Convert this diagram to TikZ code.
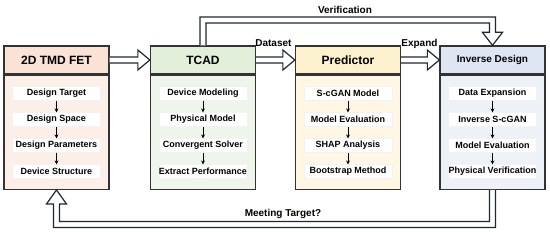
\documentclass[tikz,border=0pt]{standalone}
\usepackage{fontspec}
\setmainfont{Liberation Sans}
\usetikzlibrary{calc,arrows.meta}
\definecolor{bordc}{HTML}{333333}
\definecolor{arrc}{HTML}{1F2731}
\definecolor{c1h}{HTML}{FAE2D4}
\definecolor{c1b}{HTML}{FCEFE8}
\definecolor{c2h}{HTML}{E2EFD9}
\definecolor{c2b}{HTML}{EEF5EA}
\definecolor{c3h}{HTML}{FDF0CC}
\definecolor{c3b}{HTML}{FFF7E4}
\definecolor{c4h}{HTML}{DDE6F2}
\definecolor{c4b}{HTML}{EDF2F9}
\tikzset{
  hdr/.style={draw=bordc, line width=1.3pt, minimum width=105, minimum height=28, inner sep=0, font=\fontsize{12}{14}\selectfont\bfseries},
  bodyb/.style={draw=bordc, line width=1.3pt, minimum width=105, minimum height=114, inner sep=0, anchor=north},
  item/.style={fill=white, draw=black!5, line width=0.4pt, minimum width=88, minimum height=14, inner sep=0, font=\fontsize{9}{10}\selectfont\bfseries},
  sm/.style={-{Stealth[length=4pt,width=4pt]}, line width=1pt, black},
  hol/.style={draw=arrc, line width=1.2pt, fill=white, line join=miter},
  lbl/.style={inner sep=0, font=\fontsize{10}{12}\selectfont\bfseries}
}
\begin{document}
\begin{tikzpicture}[x=1pt,y=-1pt]
\useasboundingbox (0,0) rectangle (550,232);
% boxes
\node[hdr, fill=c1h] (h1) at (56.5,60) {2D TMD FET};
\node[bodyb, fill=c1b] (b1) at (h1.south) {};
\node[hdr, fill=c2h] (h2) at (203,60) {TCAD};
\node[bodyb, fill=c2b] (b2) at (h2.south) {};
\node[hdr, fill=c3h] (h3) at (348,60) {Predictor};
\node[bodyb, fill=c3b] (b3) at (h3.south) {};
\node[hdr, fill=c4h, font=\fontsize{10}{12}\selectfont\bfseries] (h4) at (492.5,60) {Inverse Design};
\node[bodyb, fill=c4b] (b4) at (h4.south) {};
% items box 1
\node[item] (i11) at ($(b1.north)+(0,19)$) {Design Target};
\node[item] (i12) at ($(b1.north)+(0,45)$) {Design Space};
\node[item] (i13) at ($(b1.north)+(0,71)$) {Design Parameters};
\node[item] (i14) at ($(b1.north)+(0,97)$) {Device Structure};
% items box 2
\node[item] (i21) at ($(b2.north)+(0,19)$) {Device Modeling};
\node[item] (i22) at ($(b2.north)+(0,45)$) {Physical Model};
\node[item] (i23) at ($(b2.north)+(0,71)$) {Convergent Solver};
\node[item] (i24) at ($(b2.north)+(0,97)$) {Extract Performance};
% items box 3
\node[item] (i31) at ($(b3.north)+(0,19)$) {S-cGAN Model};
\node[item] (i32) at ($(b3.north)+(0,45)$) {Model Evaluation};
\node[item] (i33) at ($(b3.north)+(0,71)$) {SHAP Analysis};
\node[item] (i34) at ($(b3.north)+(0,97)$) {Bootstrap Method};
% items box 4
\node[item] (i41) at ($(b4.north)+(0,19)$) {Data Expansion};
\node[item] (i42) at ($(b4.north)+(0,45)$) {Inverse S-cGAN};
\node[item] (i43) at ($(b4.north)+(0,71)$) {Model Evaluation};
\node[item] (i44) at ($(b4.north)+(0,97)$) {Physical Verification};
% small arrows
\foreach \k in {1,2,3,4}{
  \draw[sm] (i\k1.south) -- (i\k2.north);
  \draw[sm] (i\k2.south) -- (i\k3.north);
  \draw[sm] (i\k3.south) -- (i\k4.north);
}
% hollow arrows between boxes
\draw[hol] ($(h1.east)+(0,-3)$) -- ($(h2.west)+(-12,-3)$) -- ($(h2.west)+(-12,-10)$) -- (h2.west) -- ($(h2.west)+(-12,10)$) -- ($(h2.west)+(-12,3)$) -- ($(h1.east)+(0,3)$);
\draw[hol] ($(h2.east)+(0,-3)$) -- ($(h3.west)+(-12,-3)$) -- ($(h3.west)+(-12,-10)$) -- (h3.west) -- ($(h3.west)+(-12,10)$) -- ($(h3.west)+(-12,3)$) -- ($(h2.east)+(0,3)$);
\draw[hol] ($(h3.east)+(0,-3)$) -- ($(h4.west)+(-12,-3)$) -- ($(h4.west)+(-12,-10)$) -- (h4.west) -- ($(h4.west)+(-12,10)$) -- ($(h4.west)+(-12,3)$) -- ($(h3.east)+(0,3)$);
% top loop
\coordinate (vt) at (0,20);
\draw[hol] ($(h2.north)+(-3,0)$) -- ($(h2.north|-vt)+(-3,-3)$) -- ($(h4.north|-vt)+(3,-3)$) -- ($(h4.north)+(3,-13)$) -- ($(h4.north)+(10,-13)$) -- (h4.north) -- ($(h4.north)+(-10,-13)$) -- ($(h4.north)+(-3,-13)$) -- ($(h4.north|-vt)+(-3,3)$) -- ($(h2.north|-vt)+(3,3)$) -- ($(h2.north)+(3,0)$);
% bottom loop
\coordinate (vb) at (0,224.5);
\draw[hol] ($(b4.south)+(-3,0)$) -- ($(b4.south|-vb)+(-3,-3)$) -- ($(b1.south|-vb)+(3,-3)$) -- ($(b1.south)+(3,14)$) -- ($(b1.south)+(10,14)$) -- (b1.south) -- ($(b1.south)+(-10,14)$) -- ($(b1.south)+(-3,14)$) -- ($(b1.south|-vb)+(-3,3)$) -- ($(b4.south|-vb)+(3,3)$) -- ($(b4.south)+(3,0)$);
% labels
\node[lbl, anchor=base west] (ld) at ($(h2.north east)+(-1,1)$) {Dataset};
\node[lbl, anchor=base west] (le) at ($(h3.north east)+(0,1)$) {Expand};
\node[lbl] (lv) at (345,9.5) {Verification};
\node[lbl] (lm) at (283,213.5) {Meeting Target?};
\end{tikzpicture}
\end{document}
